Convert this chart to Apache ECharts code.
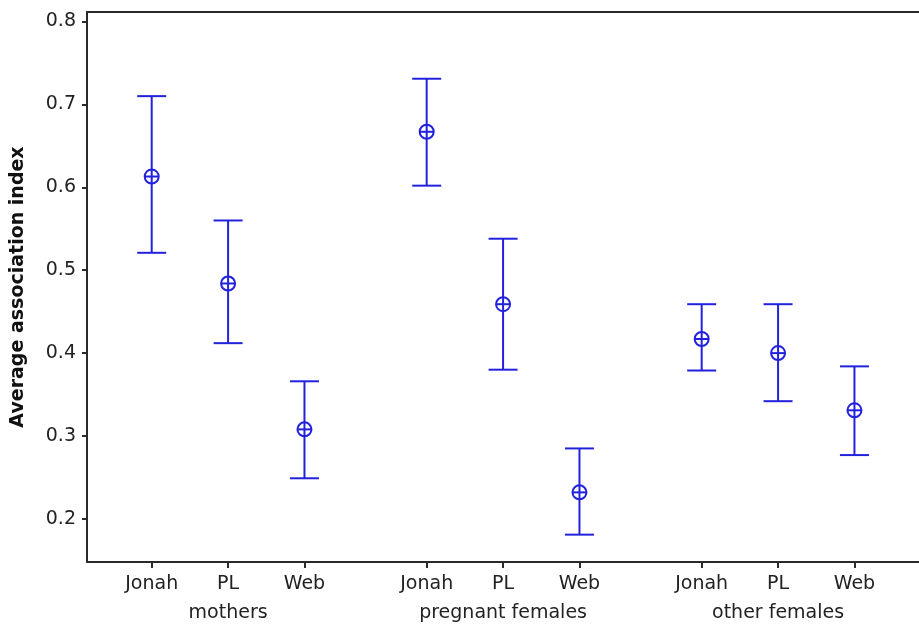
<!DOCTYPE html>
<html>
<head>
<meta charset="utf-8">
<script src="https://cdn.jsdelivr.net/npm/echarts@6/dist/echarts.min.js"></script>
<style>
  html, body { margin: 0; padding: 0; background: #fff; }
  #chart { width: 919px; height: 626px; }
</style>
</head>
<body>
<div id="chart"></div>
<script>
// data
var groups = ["mothers", "pregnant females", "other females"];
var observers = ["Jonah", "PL", "Web"];
var means = [0.613, 0.484, 0.308, 0.667, 0.459, 0.232, 0.417, 0.400, 0.331];
var lows  = [0.521, 0.412, 0.249, 0.602, 0.380, 0.181, 0.379, 0.342, 0.277];
var highs = [0.710, 0.560, 0.366, 0.731, 0.538, 0.285, 0.459, 0.459, 0.384];
var yTicks = [0.2, 0.3, 0.4, 0.5, 0.6, 0.7, 0.8];

var blue = "#2222dd";
var groupGap = 1.6; // distance between last point of a group and first of the next, x units

// x position of every point, and the middle of every group
var xs = [];
var obsLabels = {};
var groupMids = [];
var groupLabels = {};
groups.forEach(function (g, gi) {
  observers.forEach(function (o, oi) {
    var x = +(1 + gi * (observers.length - 1 + groupGap) + oi).toFixed(2);
    xs.push(x);
    obsLabels[x] = o;
    if (oi === 1) {
      groupMids.push(x);
      groupLabels[x] = g;
    }
  });
});

var rows = means.map(function (m, i) {
  return [xs[i], m, lows[i], highs[i]];
});

var chart = echarts.init(document.getElementById("chart"));

var axisColor = "#2a2a2a";
var labelFont = { fontFamily: "DejaVu Sans", fontSize: 19, color: "#222" };

var option = {
  backgroundColor: "#fff",
  animation: false,
  grid: { left: 87, right: 0, top: 12, bottom: 64 },
  xAxis: [
    {
      type: "value",
      min: 0.153,
      max: 11.045,
      splitLine: { show: false },
      axisLine: { show: true, onZero: false, lineStyle: { color: axisColor, width: 2 } },
      axisTick: { show: true, length: 6, customValues: xs, lineStyle: { color: axisColor, width: 2 } },
      axisLabel: Object.assign({
        customValues: xs,
        showMinLabel: true,
        showMaxLabel: true,
        margin: 13,
        formatter: function (v) { return obsLabels[+v.toFixed(2)] || ""; }
      }, labelFont)
    },
    {
      // group names under the observer names
      type: "value",
      position: "bottom",
      min: 0.153,
      max: 11.045,
      splitLine: { show: false },
      axisLine: { show: false, onZero: false },
      axisTick: { show: false },
      axisLabel: Object.assign({
        customValues: groupMids,
        showMinLabel: true,
        showMaxLabel: true,
        margin: 42,
        formatter: function (v) { return groupLabels[+v.toFixed(2)] || ""; }
      }, labelFont)
    },
    {
      type: "value",
      position: "top",
      min: 0.153,
      max: 11.045,
      splitLine: { show: false },
      axisLine: { show: true, onZero: false, lineStyle: { color: axisColor, width: 2 } },
      axisTick: { show: false },
      axisLabel: { show: false }
    }
  ],
  yAxis: {
    type: "value",
    min: 0.148,
    max: 0.8115,
    name: "Average association index",
    nameLocation: "middle",
    nameGap: 59,
    nameTextStyle: { fontFamily: "DejaVu Sans", fontWeight: "bold", fontSize: 19, color: "#111" },
    splitLine: { show: false },
    axisLine: { show: true, lineStyle: { color: axisColor, width: 2 } },
    axisTick: { show: true, length: 5, customValues: yTicks, lineStyle: { color: axisColor, width: 2 } },
    axisLabel: Object.assign({
      customValues: yTicks,
      showMinLabel: true,
      showMaxLabel: true,
      margin: 11,
      formatter: function (v) { return v.toFixed(1); }
    }, labelFont)
  },
  series: [
    {
      type: "custom",
      xAxisIndex: 0,
      data: rows,
      renderItem: function (params, api) {
        var x = api.value(0);
        var mid = api.coord([x, api.value(1)]);
        var lo = api.coord([x, api.value(2)]);
        var hi = api.coord([x, api.value(3)]);
        var cap = 14.5, r = 7;
        var st = { stroke: blue, lineWidth: 2, fill: null };
        return {
          type: "group",
          children: [
            { type: "line", shape: { x1: hi[0], y1: hi[1], x2: lo[0], y2: lo[1] }, style: st },
            { type: "line", shape: { x1: hi[0] - cap, y1: hi[1], x2: hi[0] + cap, y2: hi[1] }, style: st },
            { type: "line", shape: { x1: lo[0] - cap, y1: lo[1], x2: lo[0] + cap, y2: lo[1] }, style: st },
            { type: "circle", shape: { cx: mid[0], cy: mid[1], r: r }, style: { stroke: blue, lineWidth: 2, fill: "#fff" } },
            { type: "line", shape: { x1: mid[0] - r, y1: mid[1], x2: mid[0] + r, y2: mid[1] }, style: st },
            { type: "line", shape: { x1: mid[0], y1: mid[1] - r, x2: mid[0], y2: mid[1] + r }, style: st }
          ]
        };
      }
    }
  ]
};

chart.setOption(option);
</script>
</body>
</html>
